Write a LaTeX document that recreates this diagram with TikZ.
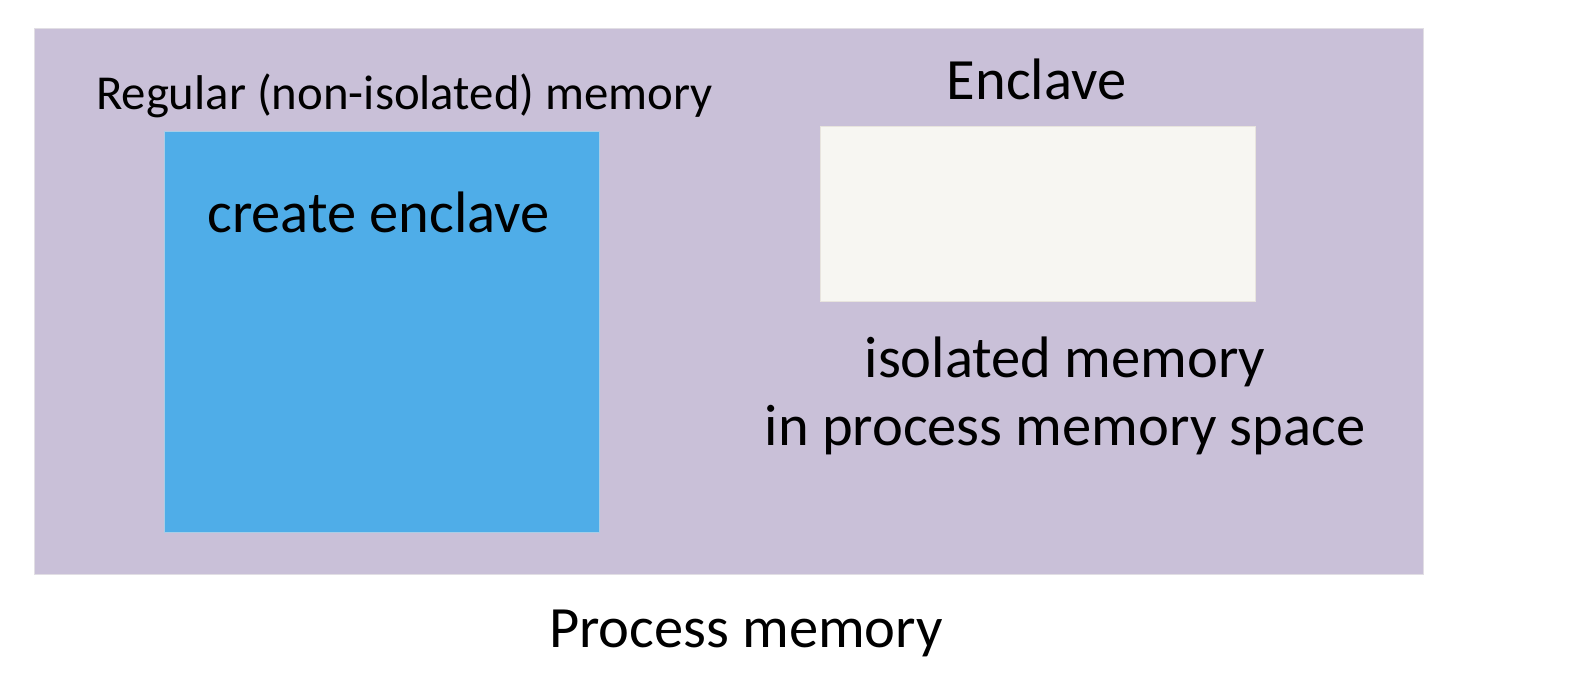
\documentclass[tikz,border=0pt]{standalone}
\usepackage{fontspec}
\setmainfont{Carlito}
\definecolor{procbg}{RGB}{201,192,216}
\definecolor{procline}{RGB}{225,222,228}
\definecolor{regbg}{RGB}{79,173,232}
\definecolor{regline}{RGB}{170,205,230}
\definecolor{encbg}{RGB}{247,246,242}
\definecolor{encline}{RGB}{232,228,222}
\tikzset{
  area/.style={rectangle, inner sep=0pt, line width=0.8pt},
  bigtext/.style={anchor=base, inner sep=0pt, font=\fontsize{58.5}{70}\selectfont},
  midtext/.style={anchor=base, inner sep=0pt, font=\fontsize{48.8}{58}\selectfont},
}
\begin{document}
\begin{tikzpicture}[x=1pt,y=-1pt]
\useasboundingbox (0,0) rectangle (1590,674);
\node[area, fill=procbg, draw=procline, minimum width=1389pt, minimum height=545pt, anchor=north west] (proc) at (34,28.5) {};
\node[area, fill=regbg, draw=regline, minimum width=435pt, minimum height=400pt, anchor=north west] (reg) at (164,131.5) {};
\node[area, fill=encbg, draw=encline, minimum width=435pt, minimum height=175pt, anchor=north west] (enc) at (820,126) {};
\node[midtext] (reglabel) at (404.5,110) {Regular (non-isolated) memory};
\node[bigtext] (create) at (378.5,232) {create enclave};
\node[bigtext] (enclabel) at (1036.5,100) {Enclave};
\node[bigtext] (iso1) at (1065,377) {isolated memory};
\node[bigtext] (iso2) at (1065,445) {in process memory space};
\node[bigtext] (proclabel) at (746,647) {Process memory};
\end{tikzpicture}
\end{document}
